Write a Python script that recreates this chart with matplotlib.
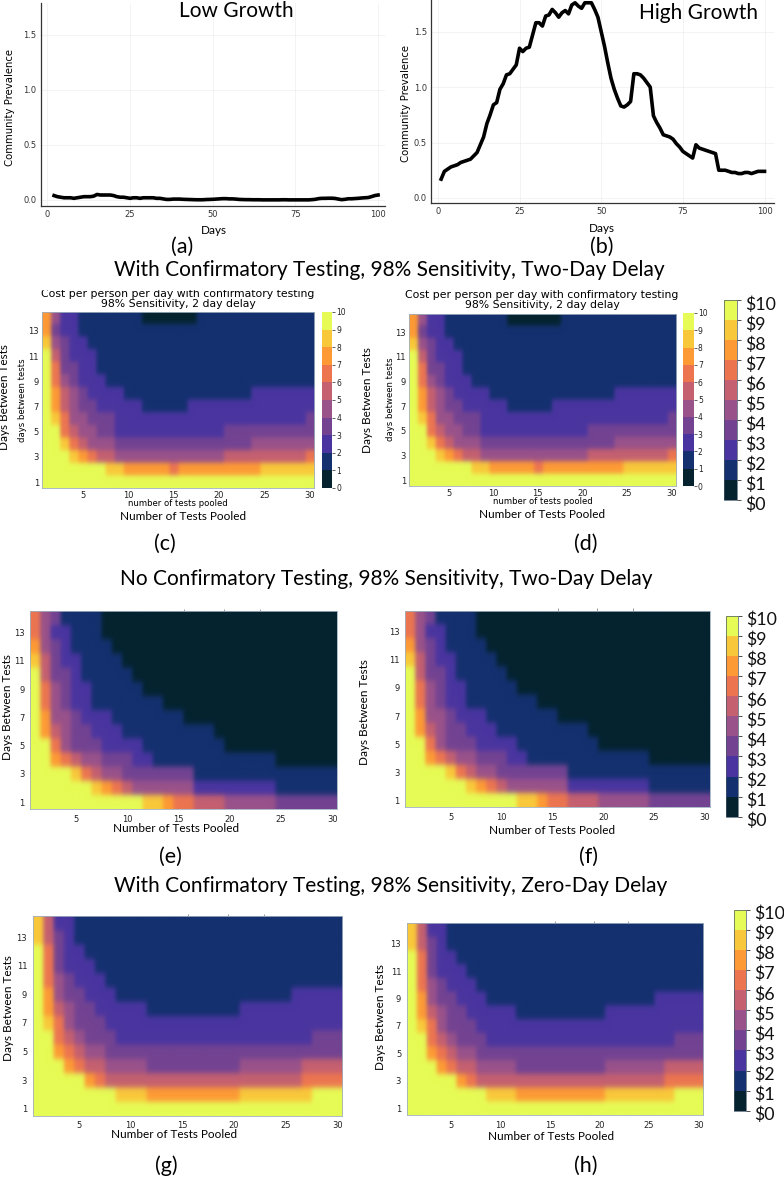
import numpy as np
import matplotlib
matplotlib.use("Agg")
import matplotlib.pyplot as plt
from matplotlib.cm import ScalarMappable
from matplotlib.colors import ListedColormap, Normalize
from matplotlib.patches import Rectangle

W, H = 784, 1177
BIG = "Lato"

days_low = list(range(2, 101))
low_growth = [
    .04, .03, .025, .02, .02, .02, .015, .02, .025, .03,
    .03, .03, .035, .05, .045, .045, .045, .045, .04, .03,
    .025, .025, .02, .015, .02, .02, .015, .02, .02, .02,
    .02, .015, .015, .01, .005, .005, .008, .008, .008, .006,
    .005, .004, .003, .002, .002, .002, .004, .005, .006, .008,
    .01, .012, .012, .01, .01, .008, .005, .004, .003, .003,
    .002, .002, .002, .001, .001, .001, .001, .001, .001, .002,
    .002, .001, .001, .001, .001, .001, .001, .001, .003, .006,
    .012, .015, .015, .016, .016, .014, .008, .003, .006, .011,
    .011, .013, .015, .018, .02, .022, .03, .04, .045,
]
days_high = list(range(1, 101))
high_growth = [
    .17, .24, .26, .28, .29, .30, .32, .33, .34, .35,
    .38, .41, .48, .55, .67, .75, .84, .86, .98, 1.03,
    1.11, 1.12, 1.16, 1.20, 1.35, 1.32, 1.35, 1.36, 1.47, 1.58,
    1.58, 1.55, 1.64, 1.65, 1.70, 1.67, 1.63, 1.67, 1.69, 1.66,
    1.74, 1.76, 1.73, 1.71, 1.76, 1.76, 1.76, 1.70, 1.63, 1.50,
    1.37, 1.22, 1.08, .98, .90, .83, .82, .84, .87, 1.12,
    1.12, 1.11, 1.08, 1.04, 1.00, .74, .68, .63, .57, .56,
    .55, .53, .49, .46, .42, .40, .38, .36, .48, .45,
    .44, .43, .42, .41, .40, .25, .25, .25, .24, .23,
    .23, .22, .22, .23, .23, .22, .23, .24, .24, .24,
][:100]

# cost per person per day, rows run from 14 days down to 1 day, columns 1..30 tests pooled
cost_confirm_2day = [
    [7.5, 4.5, 2.5, 2.5] + [1.5] * 7 + [0.5] * 6 + [1.5] * 13,
    [7.5, 3.5, 2.5, 2.5] + [1.5] * 26,
    [8.5, 4.5, 3.5, 2.5, 2.5] + [1.5] * 25,
    [9.5, 5.5, 3.5, 2.5, 2.5, 2.5] + [1.5] * 24,
    [9.5, 6.5, 3.5, 3.5, 2.5, 2.5] + [1.5] * 24,
    [9.5, 6.5, 4.5, 3.5, 2.5, 2.5, 2.5] + [1.5] * 23,
    [9.5, 7.5, 5.0, 4.0, 3.5, 2.5, 2.5, 2.5, 2.5] + [1.5] * 14 + [2.5] * 7,
    [9.5, 7.5, 5.5, 4.5, 3.5, 3.5] + [2.5] * 5 + [1.5] * 5 + [2.5] * 14,
    [9.5, 8.0, 6.0, 4.5, 4.5, 3.5, 3.5, 3.0] + [2.5] * 21 + [3.5],
    [9.5, 9.0, 6.5, 5.5, 4.5, 4.5, 3.5, 3.5] + [2.5] * 12 + [3.5] * 10,
    [9.5, 9.5, 8.0, 6.5, 5.5, 4.5, 4.5, 4.5] + [3.5] * 15 + [4.5] * 7,
    [9.5, 9.5, 9.5, 8.5, 7.0, 6.0, 5.5, 5.5] + [4.5] * 12 + [5.5] * 9 + [6.5],
    [9.5] * 7 + [8.5] * 2 + [7.5] * 5 + [6.5] + [7.5] * 9 + [8.5] * 6,
    [9.5] * 30,
]
cost_noconfirm_2day = [
    [6.5, 4.0, 3.5, 1.5, 1.5, 1.5, 1.5] + [0.5] * 23,
    [6.5, 4.0, 2.5, 2.0, 1.5, 1.5, 1.5] + [0.5] * 23,
    [7.5, 4.5, 3.0, 2.5, 1.5, 1.5, 1.5, 1.5] + [0.5] * 22,
    [8.0, 5.0, 3.5, 2.5, 2.5] + [1.5] * 4 + [0.5] * 21,
    [9.5, 5.5, 3.5, 3.0, 2.5] + [1.5] * 5 + [0.5] * 20,
    [9.5, 6.0, 4.0, 3.0, 2.5, 2.5] + [1.5] * 5 + [0.5] * 19,
    [9.5, 6.5, 4.0, 3.5, 2.5, 2.5] + [1.5] * 7 + [0.5] * 17,
    [9.5, 7.0, 4.5, 4.0, 3.0, 2.5, 2.5, 2.5] + [1.5] * 7 + [0.5] * 15,
    [9.5, 7.5, 5.0, 4.0, 3.5, 3.5, 2.5, 2.5, 2.5] + [1.5] * 9 + [0.5] * 12,
    [9.5, 9.0, 6.0, 4.5, 3.5, 3.5, 3.0, 2.5, 2.5, 2.5, 2.5] + [1.5] * 8 + [0.5] * 11,
    [9.5, 9.5, 7.5, 6.0, 5.0, 4.5, 4.0, 3.5, 3.5, 3.0, 2.5, 2.5] + [1.5] * 12 + [0.5] * 6,
    [9.5] * 4 + [8.0, 6.5, 5.5, 4.5, 4.5, 3.5, 3.5, 3.5, 3.0, 3.0, 3.0, 3.0] + [1.5] * 14,
    [9.5] * 6 + [8.0, 7.0, 6.5, 5.5] + [4.0] * 6 + [2.5] * 8 + [1.5] * 6,
    [9.5] * 11 + [8.5, 8.5, 7.5, 6.5, 6.5, 5.5, 5.5, 5.5] + [4.5] * 5 + [3.5] * 6,
]
cost_confirm_0day = [
    [8.5, 5.5, 2.5, 2.5] + [1.5] * 26,
    [8.5, 5.0, 3.0, 2.5] + [1.5] * 26,
    [9.5, 6.0, 3.5, 2.5, 2.5] + [1.5] * 25,
    [9.5, 6.5, 3.5, 2.5, 2.5, 2.5] + [1.5] * 24,
    [9.5, 6.5, 4.0, 3.5, 2.5, 2.5, 2.5] + [1.5] * 23,
    [9.5, 7.5, 4.5, 3.5, 3.0, 2.5, 2.5, 2.5] + [1.5] * 17 + [2.5] * 5,
    [9.5, 7.5, 5.0, 4.0, 3.5, 3.0] + [2.5] * 5 + [1.5] * 9 + [2.5] * 10,
    [9.5, 8.5, 6.0, 4.5, 3.5, 3.5, 3.0] + [2.5] * 23,
    [9.5, 9.0, 6.5, 5.5, 4.5, 3.5, 3.5, 3.5] + [2.5] * 19 + [3.5] * 3,
    [9.5, 9.5, 7.5, 6.0, 5.0, 4.5, 4.0, 3.5] + [3.0] * 3 + [3.5] * 19,
    [9.5, 9.5, 9.0, 7.0, 6.0, 5.0, 5.0] + [4.5] * 4 + [3.5] * 9 + [4.5] * 6 + [5.0] * 4,
    [9.5] * 4 + [9.0, 7.5, 6.0] + [5.5] * 4 + [5.0] * 15 + [6.5] * 4,
    [9.5] * 8 + [8.5] * 3 + [7.5] * 9 + [8.5] * 7 + [9.5] * 3,
    [9.5] * 30,
]

bar_colors = ["#04232f", "#14306f", "#4a35a0", "#734392", "#99528a",
              "#c46070", "#ec7550", "#fd9a35", "#f9c83a", "#e6fb55"]
bar_ticks = list(range(11))
bar_labels = ["$0", "$1", "$2", "$3", "$4", "$5", "$6", "$7", "$8", "$9", "$10"]

x_ticks = [5, 10, 15, 20, 25, 30]
y_ticks = [1, 3, 5, 7, 9, 11, 13]

cmap = ListedColormap(bar_colors)
norm = Normalize(0, 10)

fig = plt.figure(figsize=(W / 100, H / 100), dpi=100)


def box(left, top, right, bottom):
    return [left / W, 1 - bottom / H, (right - left) / W, (bottom - top) / H]


def label(x, y, s, size=9, family=BIG, rotation=0, **kw):
    fig.text(x / W, 1 - y / H, s.replace("$", r"\$"), fontsize=size, family=family,
             rotation=rotation, ha="center", va="center", **kw)


def line_panel(rect, days, values, xlim, ylim):
    ax = fig.add_axes(box(*rect))
    ax.plot(days, values, color="black", lw=2.6, solid_joinstyle="round")
    ax.set_xlim(*xlim)
    ax.set_ylim(*ylim)
    ax.set_xticks([0, 25, 50, 75, 100])
    ax.set_yticks([0, 0.5, 1.0, 1.5])
    ax.set_yticklabels(["0.0", "0.5", "1.0", "1.5"])
    ax.tick_params(length=0, labelsize=6, labelcolor="#333333", pad=3)
    ax.grid(color="#eeeeee", lw=0.5)
    for s in ["top", "right"]:
        ax.spines[s].set_visible(False)
    for s in ["left", "bottom"]:
        ax.spines[s].set_color("#333333")
        ax.spines[s].set_linewidth(0.9)
    return ax


def heatmap(rect, grid, pad=2, size=6):
    ax = fig.add_axes(box(*rect))
    data = np.array(grid)
    # repeat cells so the filter softens the edges of each block without melting it
    fine = np.repeat(np.repeat(data, 2, axis=0), 2, axis=1)
    ax.imshow(fine, cmap=cmap, norm=norm, aspect="auto", interpolation="gaussian",
              interpolation_stage="rgba", extent=(0.5, 30.5, 0.5, 14.5))
    ax.set_xticks(x_ticks)
    ax.set_yticks(y_ticks)
    ax.tick_params(length=0, labelsize=size, labelcolor="#222222", pad=pad)
    for s in ax.spines.values():
        s.set_color("#9fb0bf")
        s.set_linewidth(0.6)
    return ax


def small_bar(rect):
    cax = fig.add_axes(box(*rect))
    cb = fig.colorbar(ScalarMappable(norm=norm, cmap=cmap), cax=cax, ticks=bar_ticks)
    cb.outline.set_linewidth(0)
    cax.tick_params(length=2, width=0.5, labelsize=5.5, pad=1, colors="#222222")


def big_bar(rect, shift):
    cax = fig.add_axes(box(*rect))
    cb = fig.colorbar(ScalarMappable(norm=norm, cmap=cmap), cax=cax, ticks=bar_ticks)
    cb.outline.set_linewidth(0.5)
    cb.outline.set_edgecolor("#445566")
    cax.tick_params(length=3, width=0.6, labelright=False, color="#333333")
    for v, s in zip(bar_ticks, bar_labels):
        cax.annotate(s.replace("$", r"\$"), (1, v), xycoords=cax.get_yaxis_transform(),
                     xytext=(8, -shift), textcoords="offset pixels", va="center",
                     fontsize=12.8, family=BIG, color="#111111")


def stubs(ax, xs):
    # leftovers of a cropped title sitting just above the top edge
    ax.vlines(xs, 1.0, 1.012, color="#888888", lw=0.6,
              transform=ax.get_xaxis_transform(), clip_on=False)


line_panel((40.5, 3, 385, 205.7), days_low, low_growth, (-2.1, 102.1), (-0.052, 1.788))
line_panel((431, 0, 774, 203.3), days_high, high_growth, (-2.1, 102.9), (-0.048, 1.785))

heatmap((41.7, 312, 314.4, 488.3), cost_confirm_2day)
heatmap((408.7, 313.5, 675.7, 486.3), cost_confirm_2day)
stubs(heatmap((30.3, 611.3, 337.3, 809.3), cost_noconfirm_2day, pad=4), [15.5, 19.4, 22.9])
stubs(heatmap((405.3, 610.7, 710, 807.3), cost_noconfirm_2day, pad=4), [15.5, 19.4, 22.9])
stubs(heatmap((32.7, 916, 342.3, 1115.7), cost_confirm_0day, pad=4), [15.5, 19.4, 22.9])
stubs(heatmap((406.7, 923.3, 703.3, 1115), cost_confirm_0day, pad=4), [15.5, 19.4, 22.9])

small_bar((322, 312, 332, 488))
small_bar((683.3, 313, 693.7, 486))
big_bar((724.3, 300, 736.7, 500), 5)
big_bar((726, 616, 737.7, 816.7), 4)
big_bar((734.3, 910, 746, 1110.7), 4)

title = "Cost per person per day with confirmatory testing\n98% Sensitivity, 2 day delay"
label(178, 298.5, title, size=7.8, family="DejaVu Sans", linespacing=1.0)
label(542, 300.5, title, size=7.8, family="DejaVu Sans", linespacing=1.0)
fig.add_artist(Rectangle((20 / W, 1 - 288.5 / H), 300 / W, 8 / H, color="white",
                         transform=fig.transFigure, zorder=5))

label(236, 11, "Low Growth", size=15)
label(698.5, 13, "High Growth", size=15)
label(214, 231, "Days", size=8.5)
label(602, 229, "Days", size=8.5)
label(10, 108, "Community Prevalence", size=7.3, family="DejaVu Sans", rotation=90)
label(406, 103, "Community Prevalence", size=7.3, family="DejaVu Sans", rotation=90)

label(389, 270, "With Confirmatory Testing, 98% Sensitivity, Two-Day Delay", size=15, zorder=6)
label(386, 579, "No Confirmatory Testing, 98% Sensitivity, Two-Day Delay", size=15)
label(391, 886, "With Confirmatory Testing, 98% Sensitivity, Zero-Day Delay", size=15)

for x, y, s in [(182, 247, "(a)"), (602, 247, "(b)"), (165, 544, "(c)"), (586, 544, "(d)"),
                (170, 857, "(e)"), (588, 857, "(f)"), (166, 1166, "(g)"), (586, 1166, "(h)")]:
    label(x, y, s, size=15.5, zorder=6)

for x, y in [(5, 397), (367.7, 400), (7.3, 707), (365, 711.7), (8.3, 1008), (381, 1017)]:
    label(x, y, "Days Between Tests", size=8.5, rotation=90)
for x, y in [(183, 516), (541.7, 514.7), (175.7, 828), (552, 830.7), (174, 1134), (551, 1137)]:
    label(x, y, "Number of Tests Pooled", size=8.5)
for x, y in [(23, 400), (390.7, 399)]:
    label(x, y, "days between tests", size=6.1, family="DejaVu Sans", rotation=90)
for x, y in [(178, 503.7), (542.7, 501.7)]:
    label(x, y, "number of tests pooled", size=6.1, family="DejaVu Sans")

fig.savefig("out.png", dpi=100)
